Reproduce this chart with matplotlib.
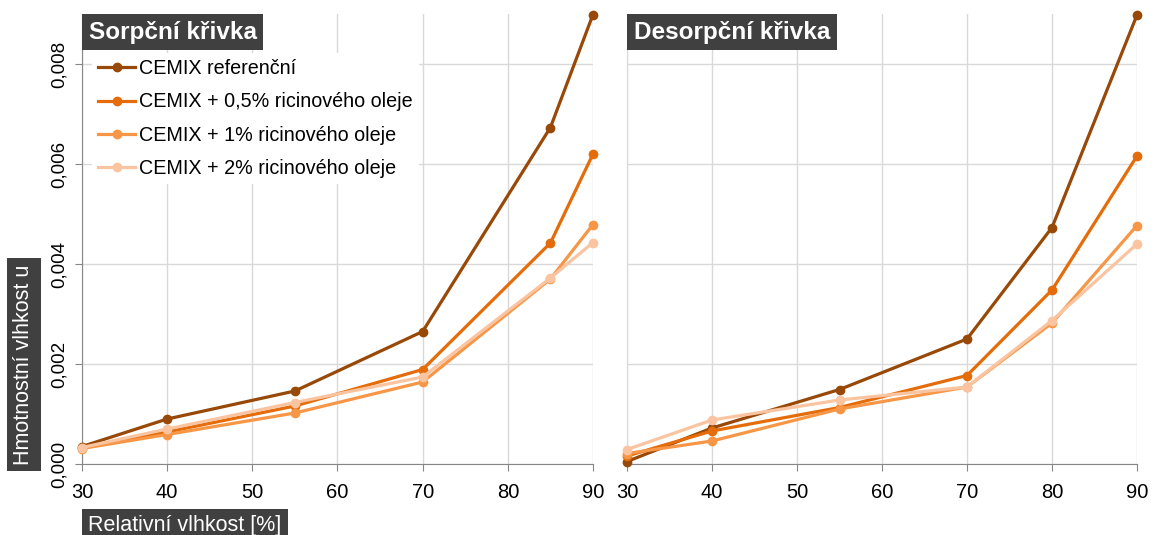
import matplotlib
matplotlib.use('Agg')
import matplotlib.pyplot as plt
from matplotlib.ticker import FuncFormatter
from matplotlib.transforms import offset_copy

plt.rcParams['font.family'] = ['Liberation Sans', 'DejaVu Sans']

series_names = ['CEMIX referenční', 'CEMIX + 0,5% ricinového oleje',
                'CEMIX + 1% ricinového oleje', 'CEMIX + 2% ricinového oleje']
colors = ['#984807', '#E46C0A', '#F79646', '#FAC4A0']

# sorpce
rh_sorp = [30, 40, 55, 70, 85, 90]
sorp_ref = [0.00035, 0.00090, 0.00146, 0.00265, 0.00673, 0.00899]
sorp_05 = [0.00033, 0.00064, 0.00116, 0.00189, 0.00442, 0.00620]
sorp_1 = [0.00031, 0.00059, 0.00102, 0.00164, 0.00370, 0.00479]
sorp_2 = [0.00033, 0.00070, 0.00123, 0.00174, 0.00372, 0.00443]

# desorpce
rh_desorp = [30, 40, 55, 70, 80, 90]
desorp_ref = [0.00005, 0.00072, 0.00149, 0.00250, 0.00473, 0.00898]
desorp_05 = [0.00016, 0.00066, 0.00113, 0.00177, 0.00348, 0.00616]
desorp_1 = [0.00021, 0.00046, 0.00110, 0.00154, 0.00282, 0.00477]
desorp_2 = [0.00029, 0.00088, 0.00128, 0.00154, 0.00287, 0.00440]

fig = plt.figure(figsize=(11.57, 5.35), dpi=100)
ax1 = fig.add_axes([82 / 1157, 71 / 535, 511 / 1157, 450 / 535])
ax2 = fig.add_axes([627 / 1157, 71 / 535, 510 / 1157, 450 / 535])

comma = FuncFormatter(lambda v, p: '{:.3f}'.format(v).replace('.', ','))

for ax, rh, data, title in [
        (ax1, rh_sorp, [sorp_ref, sorp_05, sorp_1, sorp_2], 'Sorpční křivka'),
        (ax2, rh_desorp, [desorp_ref, desorp_05, desorp_1, desorp_2], 'Desorpční křivka')]:
    for name, col, vals in zip(series_names, colors, data):
        ax.plot(rh, vals, color=col, lw=2.3, marker='o', ms=6, label=name,
                clip_on=False, zorder=3)
    ax.set_xlim(30, 90)
    ax.set_ylim(0, 0.009)
    ax.set_xticks(range(30, 91, 10))
    ax.set_yticks([0, 0.002, 0.004, 0.006, 0.008])
    ax.grid(True, color='#d9d9d9', lw=1)
    ax.set_axisbelow(True)
    for s in ['top', 'right']:
        ax.spines[s].set_visible(False)
    ax.spines['bottom'].set_color('#868686')
    ax.spines['left'].set_color('#d9d9d9')
    ax.tick_params(axis='x', length=5, color='#868686', labelsize=14.5, pad=9)
    # box starts right at the axes corner
    tr = offset_copy(ax.transAxes, fig=fig, x=4.9, y=-4.7, units='points')
    ax.text(0.0, 1.0, title, transform=tr, ha='left', va='top',
            fontsize=17.5, fontweight='bold', color='white', zorder=6,
            bbox=dict(boxstyle='square,pad=0.27', fc='#404040', ec='none'))

ax1.spines['left'].set_color('#868686')
ax1.yaxis.set_major_formatter(comma)
ax1.tick_params(axis='y', length=5, color='#868686', labelsize=13.5, pad=5)
for lab in ax1.get_yticklabels():
    lab.set_rotation(90)
    lab.set_va('center')
ax2.tick_params(axis='y', length=0, labelleft=False)

leg = ax1.legend(loc='upper left', bbox_to_anchor=(0.0, 0.935), frameon=True,
                 fontsize=14.2, handlelength=1.9, handletextpad=0.2,
                 labelspacing=0.73, borderpad=0.3)
leg.get_frame().set_facecolor('white')
leg.get_frame().set_edgecolor('none')
leg.get_frame().set_alpha(1)
leg.set_zorder(5)

fig.text(24 / 1157, 70 / 535, 'Hmotnostní vlhkost u', rotation=90,
         ha='center', va='bottom', fontsize=15.5, color='white',
         bbox=dict(boxstyle='square,pad=0.3', fc='#404040', ec='none'))
fig.text(88 / 1157, 9 / 535, 'Relativní vlhkost [%]', ha='left', va='center',
         fontsize=15.5, color='white',
         bbox=dict(boxstyle='square,pad=0.3', fc='#404040', ec='none'))

fig.savefig('out.png', dpi=100)
